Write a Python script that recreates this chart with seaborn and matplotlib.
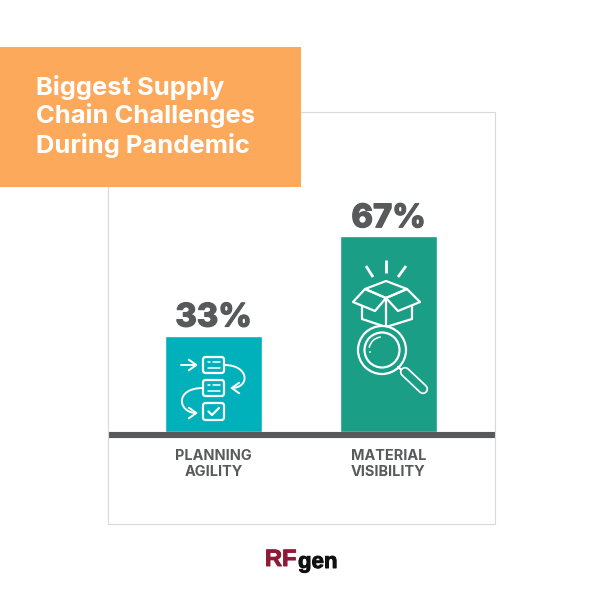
import matplotlib
matplotlib.use("Agg")
import matplotlib.pyplot as plt
import matplotlib.patheffects as pe
import pandas as pd
import seaborn as sns
from matplotlib.patches import Circle, Polygon, Rectangle, FancyBboxPatch, Arc, FancyArrowPatch
from matplotlib.path import Path as MPath

# Data
categories = ["PLANNING\nAGILITY", "MATERIAL\nVISIBILITY"]
values = [33, 67]
bar_colors = ["#00B1BB", "#1A9E86"]
title_lines = ["Biggest Supply", "Chain Challenges", "During Pandemic"]

GREY = "#58595B"
FONT = "Inter"

sns.set_theme(style="white")
plt.rcParams["font.family"] = [FONT, "DejaVu Sans"]

fig = plt.figure(figsize=(6, 6), dpi=100, facecolor="white")

# bar axes: 108-495 px wide, baseline at y=432, top of panel at y=112
ax = fig.add_axes([107.5 / 600, 1 - 432 / 600, 387 / 600, 320 / 600])
df = pd.DataFrame({"category": categories, "value": values})
sns.barplot(data=df, x="category", y="value", hue="category", palette=bar_colors,
            width=0.549, legend=False, saturation=1, ax=ax)
ax.set_xlim(-0.606, 1.606)
ax.set_ylim(0, 109.6)
ax.set_xlabel("")
ax.set_ylabel("")
ax.set_yticks([])
ax.patch.set_alpha(0)
for side in ["top", "left", "right"]:
    ax.spines[side].set_visible(False)
ax.spines["bottom"].set_color(GREY)
ax.spines["bottom"].set_linewidth(4.4)
ax.spines["bottom"].set_capstyle("butt")
ax.spines["bottom"].set_position(("outward", 2.2))
ax.tick_params(axis="x", length=0, pad=10.2)
for lab in ax.get_xticklabels():
    lab.set_fontsize(10.4)
    lab.set_fontweight("bold")
    lab.set_color(GREY)
    lab.set_linespacing(1.13)
for cont in ax.containers:
    labels = ax.bar_label(cont, fmt="%d%%", padding=1.5, fontsize=23.5, fontweight="heavy", color=GREY)
    for t in labels:
        t.set_path_effects([pe.withStroke(linewidth=0.8, foreground=GREY)])

# overlay in pixel coordinates for the card, title banner, icons and logo
ov = fig.add_axes([0, 0, 1, 1], zorder=5)
ov.set_xlim(0, 600)
ov.set_ylim(600, 0)
ov.axis("off")
ov.patch.set_alpha(0)

ov.add_patch(Rectangle((108, 112), 387, 412, fill=False, ec="#D9D9D9", lw=0.8))
ov.add_patch(Rectangle((0, 47), 301, 140, fc="#FDA95C", ec="none"))
for line, y in zip(title_lines, [87, 115, 145]):
    ov.text(36, y, line, color="white", fontsize=18.4, fontweight="bold", ha="left", va="center")

W = "white"
LW = 1.6


def poly(points, closed=True, fc="none", ec=W, lw=LW):
    ov.add_patch(Polygon(points, closed=closed, fc=fc, ec=ec, lw=lw, joinstyle="round"))


def arrow(path):
    ov.add_patch(FancyArrowPatch(path=path, arrowstyle="->,head_length=3.4,head_width=2.4",
                                 color=W, lw=1.4, mutation_scale=1.6, shrinkA=0, shrinkB=0))


# planning icon
for top, h in [(357, 16), (380, 16), (403, 17)]:
    ov.add_patch(FancyBboxPatch((203, top), 21, h, boxstyle="round,pad=0,rounding_size=2.5",
                                fc="none", ec=W, lw=LW))
for top in [357, 380]:
    ov.plot([208, 210], [top + 5, top + 5], color=W, lw=1.1)
    ov.plot([213, 220], [top + 5, top + 5], color=W, lw=1.1)
    ov.plot([208, 220], [top + 11, top + 11], color=W, lw=1.1)
ov.plot([208.5, 212, 219], [411.5, 415, 408], color=W, lw=LW)

arrow(MPath([(181, 365), (198, 365)], [MPath.MOVETO, MPath.LINETO]))
arrow(MPath([(224, 365), (250, 365), (250, 388), (230, 388)],
            [MPath.MOVETO, MPath.CURVE4, MPath.CURVE4, MPath.CURVE4]))
arrow(MPath([(203, 388), (174, 388), (178, 413), (198, 413)],
            [MPath.MOVETO, MPath.CURVE4, MPath.CURVE4, MPath.CURVE4]))

# visibility icon: rays
for seg in [((386, 260), (386, 273)), ((366, 266), (373, 277)), ((406, 266), (398, 277))]:
    ov.plot(*zip(*seg), color=W, lw=2.0, solid_capstyle="butt")

# open box
poly([(386, 281), (407, 289), (386, 298), (365, 289)])
poly([(365, 289), (353, 302), (375, 311), (386, 298)])
poly([(407, 289), (420, 302), (398, 311), (386, 298)])
poly([(362, 306), (362, 319), (386, 327), (412, 319), (412, 306)], closed=False)
ov.plot([386, 386], [298, 327], color=W, lw=LW)

# magnifier
ov.add_patch(Circle((382, 350), 24, fc="#1A9E86", ec=W, lw=LW, zorder=3))
ov.add_patch(Circle((382, 350), 17.5, fc="none", ec=W, lw=LW, zorder=3))
ov.add_patch(Arc((382, 350), 26, 26, theta1=190, theta2=265, ec=W, lw=1.1, zorder=3))
ov.add_patch(Circle((370, 352), 0.9, fc=W, ec="none", zorder=3))
ov.plot([398, 404], [367, 372], color=W, lw=LW, zorder=3)
ov.plot([405, 423], [372, 389], color=W, lw=7.5, solid_capstyle="round", zorder=3)
ov.plot([405, 423], [372, 389], color="#1A9E86", lw=5, solid_capstyle="round", zorder=3)

# logo
ov.text(265, 566, "RF", color="#8E1B35", fontsize=17, fontweight="bold", family=["Liberation Sans"],
        ha="left", va="baseline", path_effects=[pe.withStroke(linewidth=0.7, foreground="#8E1B35")])
ov.text(298, 568, "gen", color="#111111", fontsize=16, fontweight="bold", family=["Liberation Sans"],
        ha="left", va="baseline", path_effects=[pe.withStroke(linewidth=0.7, foreground="#111111")])

fig.savefig("out.png", dpi=100)
